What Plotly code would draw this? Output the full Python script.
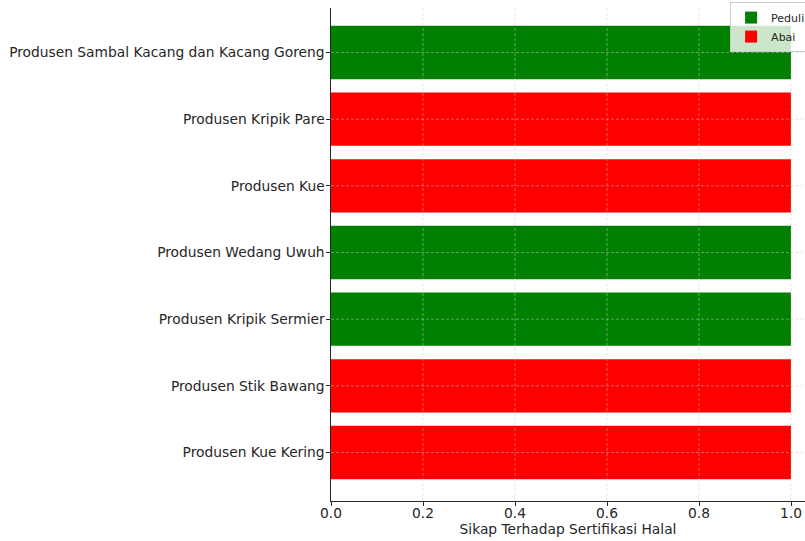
import plotly.graph_objects as go

# Data (bottom to top)
producers = [
    "Produsen Kue Kering",
    "Produsen Stik Bawang",
    "Produsen Kripik Sermier",
    "Produsen Wedang Uwuh",
    "Produsen Kue",
    "Produsen Kripik Pare",
    "Produsen Sambal Kacang dan Kacang Goreng",
]
attitude = ["Abai", "Abai", "Peduli", "Peduli", "Abai", "Abai", "Peduli"]
values = [1, 1, 1, 1, 1, 1, 1]
x_ticks = [0.0, 0.2, 0.4, 0.6, 0.8, 1.0]
x_tick_labels = ["0.0", "0.2", "0.4", "0.6", "0.8", "1.0"]

colors = {"Peduli": "#008000", "Abai": "#ff0000"}
grid_color = "rgba(205,205,205,0.6)"

fig = go.Figure()
for group in ["Peduli", "Abai"]:
    ys = [p for p, a in zip(producers, attitude) if a == group]
    xs = [v for v, a in zip(values, attitude) if a == group]
    fig.add_trace(go.Bar(
        x=xs, y=ys, orientation="h", name=group,
        marker=dict(color=colors[group], line=dict(width=0)),
        width=0.8,
    ))

# dashed grid drawn above the bars (as in the reference)
for xv in x_ticks[1:]:
    fig.add_shape(type="line", layer="above", xref="x", yref="paper",
                  x0=xv, x1=xv, y0=0, y1=1,
                  line=dict(color=grid_color, width=0.8, dash="3px,2px"))
for p in producers:
    fig.add_shape(type="line", layer="above", xref="paper", yref="y",
                  x0=0, x1=1, y0=p, y1=p,
                  line=dict(color=grid_color, width=0.8, dash="3px,2px"))

font = "DejaVu Sans, sans-serif"
fig.update_layout(
    width=805, height=541,
    margin=dict(l=331, r=0, t=8, b=40, autoexpand=False),
    plot_bgcolor="white", paper_bgcolor="white",
    barmode="overlay",
    font=dict(family=font, size=13.8, color="#262626"),
    legend=dict(
        x=0.842, y=1.012, xanchor="left", yanchor="top",
        bgcolor="rgba(255,255,255,0.8)", bordercolor="#cccccc", borderwidth=1,
        font=dict(size=11, color="#262626"),
        tracegroupgap=0,
    ),
    xaxis=dict(
        range=[0, 1.0304], tickvals=x_ticks, ticktext=x_tick_labels,
        showgrid=False,
        showline=True, linecolor="#262626", linewidth=1.2,
        ticks="outside", ticklen=3.5, tickcolor="#262626",
        ticklabelstandoff=-4,
        zeroline=False, automargin=False,
        title=dict(text="Sikap Terhadap Sertifikasi Halal", font=dict(size=13.8), standoff=2),
    ),
    yaxis=dict(
        type="category", categoryorder="array", categoryarray=producers,
        range=[-0.727, 6.667],
        showgrid=False,
        showline=True, linecolor="#262626", linewidth=1.2,
        ticks="outside", ticklen=3.5, tickcolor="#262626",
        ticklabelstandoff=-1,
        zeroline=False, automargin=False,
    ),
)

fig.write_html(
    "out.html",
    config={"displayModeBar": False},
    post_script="document.body.style.margin='0';document.body.style.overflow='hidden';",
)
